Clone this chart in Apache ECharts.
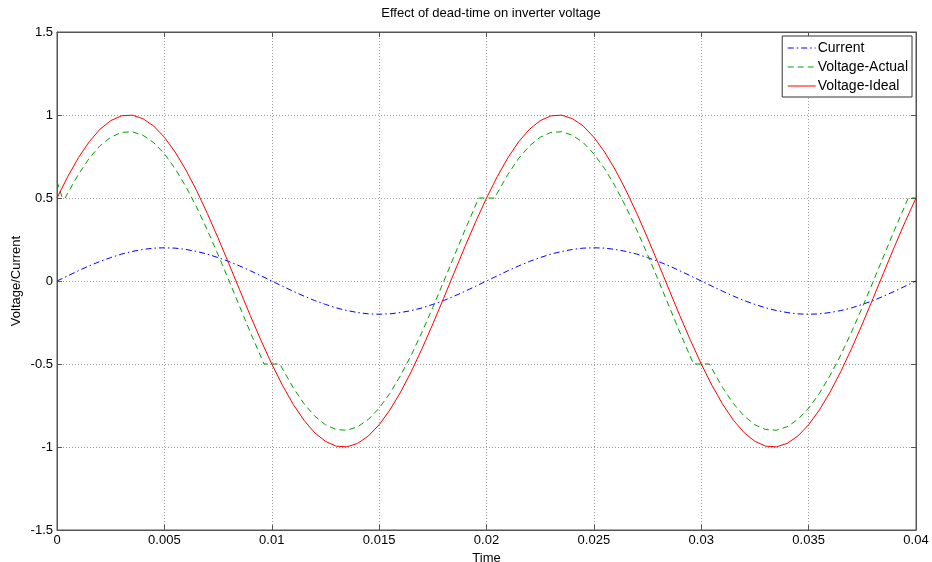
<!DOCTYPE html>
<html>
<head>
<meta charset="utf-8">
<script src="https://cdn.jsdelivr.net/npm/echarts@6/dist/echarts.min.js"></script>
<style>
  html, body { margin: 0; padding: 0; background: #fff; }
  #chart { width: 932px; height: 562px; }
</style>
</head>
<body>
<div id="chart"></div>
<script>
// sample times (s)
const time = [
  0, 0.0005, 0.001, 0.0015, 0.002, 0.0025, 0.003, 0.0035, 0.004, 0.0045,
  0.005, 0.0055, 0.006, 0.0065, 0.007, 0.0075, 0.008, 0.0085, 0.009, 0.0095,
  0.01, 0.0105, 0.011, 0.0115, 0.012, 0.0125, 0.013, 0.0135, 0.014, 0.0145,
  0.015, 0.0155, 0.016, 0.0165, 0.017, 0.0175, 0.018, 0.0185, 0.019, 0.0195,
  0.02, 0.0205, 0.021, 0.0215, 0.022, 0.0225, 0.023, 0.0235, 0.024, 0.0245,
  0.025, 0.0255, 0.026, 0.0265, 0.027, 0.0275, 0.028, 0.0285, 0.029, 0.0295,
  0.03, 0.0305, 0.031, 0.0315, 0.032, 0.0325, 0.033, 0.0335, 0.034, 0.0345,
  0.035, 0.0355, 0.036, 0.0365, 0.037, 0.0375, 0.038, 0.0385, 0.039, 0.0395,
  0.04
];

const current = [
  0, 0.031, 0.062, 0.091, 0.118, 0.141, 0.162, 0.178, 0.19, 0.198,
  0.2, 0.198, 0.19, 0.178, 0.162, 0.141, 0.118, 0.091, 0.062, 0.031,
  0, -0.031, -0.062, -0.091, -0.118, -0.141, -0.162, -0.178, -0.19, -0.198,
  -0.2, -0.198, -0.19, -0.178, -0.162, -0.141, -0.118, -0.091, -0.062, -0.031,
  0, 0.031, 0.062, 0.091, 0.118, 0.141, 0.162, 0.178, 0.19, 0.198,
  0.2, 0.198, 0.19, 0.178, 0.162, 0.141, 0.118, 0.091, 0.062, 0.031,
  0, -0.031, -0.062, -0.091, -0.118, -0.141, -0.162, -0.178, -0.19, -0.198,
  -0.2, -0.198, -0.19, -0.178, -0.162, -0.141, -0.118, -0.091, -0.062, -0.031,
  0
];

const voltageIdeal = [
  0.5, 0.629, 0.743, 0.839, 0.914, 0.966, 0.995, 0.999, 0.978, 0.934,
  0.866, 0.777, 0.669, 0.545, 0.407, 0.259, 0.105, -0.052, -0.208, -0.358,
  -0.5, -0.629, -0.743, -0.839, -0.914, -0.966, -0.995, -0.999, -0.978, -0.934,
  -0.866, -0.777, -0.669, -0.545, -0.407, -0.259, -0.105, 0.052, 0.208, 0.358,
  0.5, 0.629, 0.743, 0.839, 0.914, 0.966, 0.995, 0.999, 0.978, 0.934,
  0.866, 0.777, 0.669, 0.545, 0.407, 0.259, 0.105, -0.052, -0.208, -0.358,
  -0.5, -0.629, -0.743, -0.839, -0.914, -0.966, -0.995, -0.999, -0.978, -0.934,
  -0.866, -0.777, -0.669, -0.545, -0.407, -0.259, -0.105, 0.052, 0.208, 0.358,
  0.5
];

// actual voltage has its own times (flat steps around current zero crossings)
const actualTime = [
  0, 0.00025, 0.00038,
  0.0005, 0.001, 0.0015, 0.002, 0.0025, 0.003, 0.0035, 0.004, 0.0045, 0.005,
  0.0055, 0.006, 0.0065, 0.007, 0.0075, 0.008, 0.0085, 0.009, 0.0095,
  0.00964, 0.01038,
  0.0105, 0.011, 0.0115, 0.012, 0.0125, 0.013, 0.0135, 0.014, 0.0145, 0.015,
  0.0155, 0.016, 0.0165, 0.017, 0.0175, 0.018, 0.0185, 0.019, 0.0195,
  0.01964, 0.02038,
  0.0205, 0.021, 0.0215, 0.022, 0.0225, 0.023, 0.0235, 0.024, 0.0245, 0.025,
  0.0255, 0.026, 0.0265, 0.027, 0.0275, 0.028, 0.0285, 0.029, 0.0295,
  0.02964, 0.03038,
  0.0305, 0.031, 0.0315, 0.032, 0.0325, 0.033, 0.0335, 0.034, 0.0345, 0.035,
  0.0355, 0.036, 0.0365, 0.037, 0.0375, 0.038, 0.0385, 0.039, 0.0395,
  0.03964, 0.04
];

const voltageActual = [
  0.6, 0.5, 0.5,
  0.529, 0.643, 0.739, 0.814, 0.866, 0.895, 0.899, 0.878, 0.834, 0.766,
  0.677, 0.569, 0.445, 0.307, 0.159, 0.005, -0.152, -0.308, -0.458,
  -0.5, -0.5,
  -0.529, -0.643, -0.739, -0.814, -0.866, -0.895, -0.899, -0.878, -0.834, -0.766,
  -0.677, -0.569, -0.445, -0.307, -0.159, -0.005, 0.152, 0.308, 0.458,
  0.5, 0.5,
  0.529, 0.643, 0.739, 0.814, 0.866, 0.895, 0.899, 0.878, 0.834, 0.766,
  0.677, 0.569, 0.445, 0.307, 0.159, 0.005, -0.152, -0.308, -0.458,
  -0.5, -0.5,
  -0.529, -0.643, -0.739, -0.814, -0.866, -0.895, -0.899, -0.878, -0.834, -0.766,
  -0.677, -0.569, -0.445, -0.307, -0.159, -0.005, 0.152, 0.308, 0.458,
  0.5, 0.5
];

const xTicks = ["0", "0.005", "0.01", "0.015", "0.02", "0.025", "0.03", "0.035", "0.04"];

const zip = (xs, ys) => xs.map((x, i) => [x, ys[i]]);

const FONT = "'Liberation Sans', Arial, sans-serif";
const AXIS_COLOR = "#555";
const GRID_COLOR = "#9a9a9a";

const chart = echarts.init(document.getElementById("chart"), null, { renderer: "canvas" });

const tickStyle = () => ({ show: true, inside: true, length: 5, lineStyle: { color: AXIS_COLOR } });

const option = {
  animation: false,
  backgroundColor: "#fff",
  textStyle: { fontFamily: FONT },
  title: {
    text: "Effect of dead-time on inverter voltage",
    left: 486,
    top: 2,
    textAlign: "center",
    textStyle: { fontSize: 13, fontWeight: "normal", color: "#000", fontFamily: FONT },
  },
  legend: {
    orient: "vertical",
    right: 20,
    top: 36,
    backgroundColor: "#fff",
    borderColor: "#333",
    borderWidth: 1,
    borderRadius: 0,
    padding: [5, 4, 4, 5],
    itemWidth: 28,
    itemHeight: 14,
    itemGap: 5,
    itemStyle: { opacity: 0 },
    lineStyle: { width: 1 },
    textStyle: { fontSize: 14, color: "#000", padding: [0, 0, 0, -3] },
    data: ["Current", "Voltage-Actual", "Voltage-Ideal"],
  },
  grid: {
    left: 57,
    right: 16,
    top: 32,
    bottom: 32,
    outerBoundsMode: "none",
    containLabel: false,
    show: true,
    borderColor: AXIS_COLOR,
    borderWidth: 1,
  },
  xAxis: [
    {
      type: "value",
      min: 0,
      max: 0.04,
      interval: 0.005,
      name: "Time",
      nameLocation: "middle",
      nameGap: 14,
      nameTextStyle: { fontSize: 13, color: "#000" },
      axisLine: { show: true, onZero: false, lineStyle: { color: AXIS_COLOR } },
      axisTick: tickStyle(),
      axisLabel: {
        fontSize: 13,
        color: "#000",
        margin: 4,
        formatter: (v) => xTicks[Math.round(v / 0.005)],
      },
      splitLine: { show: true, lineStyle: { color: GRID_COLOR, type: [1, 2] } },
    },
    {
      type: "value",
      position: "top",
      min: 0,
      max: 0.04,
      interval: 0.005,
      axisLine: { show: true, onZero: false, lineStyle: { color: AXIS_COLOR } },
      axisTick: tickStyle(),
      axisLabel: { show: false },
      splitLine: { show: false },
    },
  ],
  yAxis: [
    {
      type: "value",
      min: -1.5,
      max: 1.5,
      interval: 0.5,
      name: "Voltage/Current",
      nameLocation: "middle",
      nameGap: 34,
      nameMoveOverlap: false,
      nameTextStyle: { fontSize: 13, color: "#000" },
      axisLine: { show: true, onZero: false, lineStyle: { color: AXIS_COLOR } },
      axisTick: tickStyle(),
      axisLabel: { fontSize: 13, color: "#000", margin: 4 },
      splitLine: { show: true, lineStyle: { color: GRID_COLOR, type: [1, 2] } },
    },
    {
      type: "value",
      position: "right",
      min: -1.5,
      max: 1.5,
      interval: 0.5,
      axisLine: { show: true, onZero: false, lineStyle: { color: AXIS_COLOR } },
      axisTick: tickStyle(),
      axisLabel: { show: false },
      splitLine: { show: false },
    },
  ],
  series: [
    {
      name: "Current",
      type: "line",
      data: zip(time, current),
      symbol: "none",
      lineStyle: { color: "#0000ff", width: 1, type: [6, 3, 1.5, 3] },
      itemStyle: { color: "#0000ff" },
    },
    {
      name: "Voltage-Actual",
      type: "line",
      data: zip(actualTime, voltageActual),
      symbol: "none",
      lineStyle: { color: "#00a000", width: 1, type: [6, 4] },
      itemStyle: { color: "#00a000" },
    },
    {
      name: "Voltage-Ideal",
      type: "line",
      data: zip(time, voltageIdeal),
      symbol: "none",
      lineStyle: { color: "#ff0000", width: 1 },
      itemStyle: { color: "#ff0000" },
    },
  ],
};

chart.setOption(option);
window.addEventListener("resize", () => chart.resize());
</script>
</body>
</html>
